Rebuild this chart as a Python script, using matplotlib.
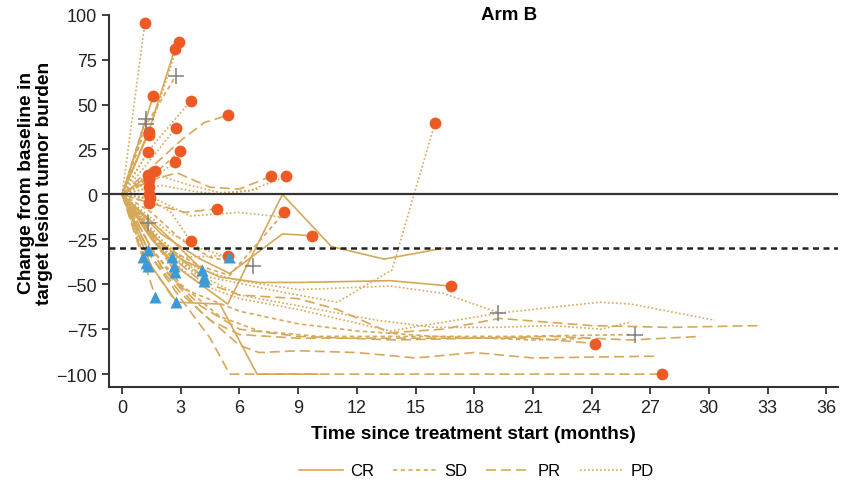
import matplotlib
matplotlib.use("Agg")
import matplotlib.pyplot as plt
from matplotlib.lines import Line2D

plt.rcParams['font.family'] = ['Liberation Sans', 'DejaVu Sans']

# ---------------- data ----------------
# CR (solid)
cr_t = [
    [0, 1.3, 2.7],
    [0, 1.6],
    [0, 1.35],
    [0, 1.5, 3, 5.4, 8.2, 10.7, 13.4, 16.4],
    [0, 2, 4, 5.5, 8.2, 9.7],
    [0, 1.5, 3, 5, 7, 9, 13.7, 16.8],
    [0, 1.5, 2.8, 5, 6.9, 10],
    [0, 1.33],
    [0, 1.2, 2.65],
    [0, 1.7],
    [0, 2.5, 4.1],
    [0, 1.4],
]
cr_v = [
    [0, 33, 81],
    [0, 55],
    [0, 35],
    [0, -25, -42, -61, 0, -29, -36, -30],
    [0, -22, -36, -44, -22, -23],
    [0, -22, -36, -46, -49, -49, -48, -51],
    [0, -40, -60, -61, -100, -100],
    [0, -31],
    [0, -20, -40],
    [0, 13],
    [0, -25, -42],
    [0, 0],
]
# SD (short dash)
sd_t = [
    [0, 1.3, 2.75],
    [0, 2, 4, 5.5, 8.3],
    [0, 1.5, 3, 5, 7, 10, 15, 20, 26.2],
    [0, 1.3],
    [0, 1.5, 2.95],
    [0, 1.22],
    [0, 1.5, 3, 4.5, 6.7],
    [0, 1.5, 3, 6, 9, 12, 16, 21, 24],
    [0, 1.4],
    [0, 1.2],
    [0, 1.6, 2.7],
]
sd_v = [
    [0, 40, 66],
    [0, -28, -40, -45, -10],
    [0, -30, -50, -68, -76, -79, -79, -79, -78],
    [0, -16],
    [0, 10, 24],
    [0, -38],
    [0, -10, -25, -35, -40],
    [0, -30, -52, -65, -72, -76, -79, -81, -80],
    [0, -5],
    [0, 42],
    [0, -25, -43],
]
# PR (long dash)
pr_t = [
    [0, 1.5, 3, 4.2, 5.4],
    [0, 1.5, 2.8, 4.5, 6, 7.6],
    [0, 1.5, 3.2, 4.85],
    [0, 1.5, 3, 4.5, 5.5, 27.6],
    [0, 2, 4, 6, 7, 9, 12, 15, 18, 21, 27.4],
    [0, 1.5, 3, 4.5, 6, 9, 15, 21, 24.2],
    [0, 2, 4, 6, 9, 14, 18, 22, 26, 29.6],
    [0, 2, 4, 6, 9, 11, 13.7, 16.4, 19.3, 24, 28, 32.6],
    [0, 1.7],
    [0, 1.5, 2.75],
    [0, 2.55],
    [0, 2, 4.2],
    [0, 1.07],
]
pr_v = [
    [0, 15, 30, 40, 44],
    [0, 8, 12, 4, 3, 10],
    [0, -5, -10, -8],
    [0, -35, -58, -80, -100, -100],
    [0, -40, -65, -84, -88, -87, -88, -91, -88, -91, -90],
    [0, -35, -55, -70, -78, -80, -80, -80, -83],
    [0, -40, -62, -75, -79, -81, -80, -79, -81, -79],
    [0, -30, -48, -56, -58, -64, -77, -75, -69, -73, -74, -73],
    [0, -57],
    [0, -40, -60],
    [0, -35],
    [0, -28, -46],
    [0, -35],
]
# PD (dotted)
pd_t = [
    [0, 1.17],
    [0, 1.4, 2.9],
    [0, 1.4, 3.5],
    [0, 1.5, 2.75],
    [0, 1.3],
    [0, 1.5, 2.7],
    [0, 1.3],
    [0, 1.4],
    [0, 1.4],
    [0, 1.45],
    [0, 2, 3.5, 5, 6.5, 8.4],
    [0, 1.5, 2.5, 3.5],
    [0, 1.5, 3, 5.4],
    [0, 2, 4, 8, 11, 13.8, 16],
    [0, 2, 4, 6, 9, 13.7, 16.4, 19.3],
    [0, 2, 4, 6, 9, 13.7, 19.3, 24.4, 26, 30.3],
    [0, 2, 4, 6, 9, 13, 16, 19, 22, 24.5, 26],
    [0, 2, 3.5, 5, 7],
    [0, 1.8, 3.5, 6, 8.5],
    [0, 1.2],
    [0, 1.33],
    [0, 2, 4.2],
    [0, 2.5, 4, 5.45],
]
pd_v = [
    [0, 95.5],
    [0, 35, 85],
    [0, 25, 52],
    [0, 20, 37],
    [0, 23.5],
    [0, 8, 18],
    [0, 11],
    [0, 8],
    [0, 4],
    [0, -2],
    [0, 10, 5, 1, 2, 10],
    [0, -3, -10, -26],
    [0, -20, -35, -34],
    [0, -30, -45, -54, -60, -42, 40],
    [0, -30, -42, -48, -53, -51, -55, -66],
    [0, -32, -50, -58, -64, -76, -66, -60, -61, -70],
    [0, -25, -45, -56, -62, -70, -74, -74, -73, -75, -71],
    [0, 5, 2, 0, 3],
    [0, -3, -12, -10, -13],
    [0, 39],
    [0, -40],
    [0, -30, -48],
    [0, -22, -30, -35],
]

# event markers
circle_x = [1.17, 2.9, 2.7, 1.6, 3.5, 5.4, 2.75, 1.35, 1.35, 1.3, 2.95, 2.7, 1.7,
            1.3, 1.4, 1.4, 1.4, 1.45, 1.4, 7.6, 8.4, 4.85, 8.3, 9.7, 3.5, 5.4,
            16.0, 16.8, 24.2, 27.6]
circle_y = [95.5, 85, 81, 55, 52, 44, 37, 35, 33, 23.5, 24, 18, 13,
            11, 8, 4, 0, -2, -5, 10, 10, -8, -10, -23, -26, -34,
            40, -51, -83, -100]
triangle_x = [1.33, 1.07, 1.22, 1.33, 2.55, 2.65, 2.7, 4.1, 4.2, 4.2, 5.45, 1.7, 2.75]
triangle_y = [-31, -35, -38, -40, -35, -40, -43, -42, -46, -48, -35, -57, -60]
plus_x = [2.75, 1.2, 1.2, 1.3, 6.7, 19.2, 26.2]
plus_y = [66, 42, 39, -16, -40, -66, -78]

x_ticks = [0, 3, 6, 9, 12, 15, 18, 21, 24, 27, 30, 33, 36]
y_ticks = [100, 75, 50, 25, 0, -25, -50, -75, -100]
legend_labels = ["CR", "SD", "PR", "PD"]

# ---------------- style ----------------
LINE_C = "#D6A85A"
styles = {
    "CR": "-",
    "SD": (0, (2.6, 2.0)),
    "PR": (0, (6, 3)),
    "PD": (0, (1, 1.4)),
}

fig = plt.figure(figsize=(8.43, 4.85), dpi=100)
ax = fig.add_axes([109 / 843, 1 - 387.7 / 485, (838 - 109) / 843, (387.7 - 15.7) / 485])

groups = [("CR", cr_t, cr_v), ("SD", sd_t, sd_v), ("PR", pr_t, pr_v), ("PD", pd_t, pd_v)]
for name, ts, vs in groups:
    for t, v in zip(ts, vs):
        ax.plot(t, v, color=LINE_C, lw=1.2, ls=styles[name], zorder=2)

ax.axhline(0, color="#333333", lw=1.6, zorder=3)
ax.axhline(-30, color="#222222", lw=1.8, ls=(0, (2.4, 1.8)), zorder=3)

ax.plot(circle_x, circle_y, "o", color="#EE5A24", ms=8.5, mec="none", zorder=5)
ax.plot(triangle_x, triangle_y, "^", color="#3D9AD6", ms=9, mec="none", zorder=5)
ax.plot(plus_x, plus_y, "+", color="#808080", ms=11, mew=1.1, zorder=6)

ax.set_xlim(-0.67, 36.6)
ax.set_ylim(-107, 100)
ax.set_xticks(x_ticks)
ax.set_yticks(y_ticks)
ax.tick_params(labelsize=13, length=5, width=1.3, color="#333333", labelcolor="#222222")
for s in ["top", "right"]:
    ax.spines[s].set_visible(False)
for s in ["left", "bottom"]:
    ax.spines[s].set_linewidth(1.5)
    ax.spines[s].set_color("#333333")

ax.set_xlabel("Time since treatment start (months)", fontsize=13.8, fontweight="bold", labelpad=7)
ax.set_ylabel("Change from baseline in\ntarget lesion tumor burden", fontsize=13.8,
              fontweight="bold", linespacing=1.05)
ax.yaxis.set_label_coords(-0.077, 0.549)
ax.text(19.8, 100, "Arm B", fontsize=13.5, fontweight="bold", ha="center", va="center")

handles = [Line2D([0], [0], color=LINE_C, lw=1.2, ls=styles[n]) for n in legend_labels]
fig.legend(handles, legend_labels, loc="center", bbox_to_anchor=(476.5 / 843, 1 - 472 / 485),
           ncol=4, frameon=False, fontsize=12, handlelength=2.6, columnspacing=1.15,
           handletextpad=0.45)

fig.savefig("out.png", dpi=100)
